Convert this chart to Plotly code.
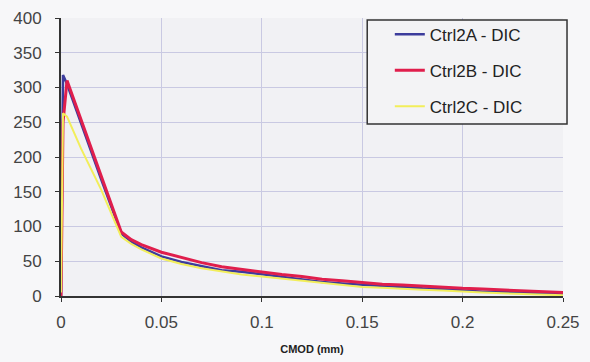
import plotly.graph_objects as go

# CMOD (mm) sample points shared by all three DIC runs
cmod = [0, 0.001, 0.003, 0.01, 0.02, 0.03, 0.035, 0.04, 0.05, 0.06, 0.07, 0.08,
        0.09, 0.1, 0.11, 0.12, 0.13, 0.14, 0.15, 0.16, 0.17, 0.18, 0.19, 0.2,
        0.21, 0.22, 0.23, 0.24, 0.25]

ctrl2a = [0, 318, 305, 248, 168, 90, 78, 70, 57, 49, 43, 37, 35, 31, 28, 24,
          20, 18, 16, 14, 13, 11, 10, 8, 6, 6, 5, 4, 2]
ctrl2b = [0, 250, 310, 253, 173, 92, 81, 74, 63, 55, 48, 42, 38, 35, 31, 28,
          24, 22, 19, 17, 16, 14, 12, 11, 10, 9, 8, 7, 5]
ctrl2c = [5, 263, 258, 212, 153, 85, 75, 67, 54, 46, 40, 35, 31, 28, 25, 21,
          18, 16, 13, 12, 10, 9, 8, 6, 5, 4, 3, 2, 1]

series = [
    ("Ctrl2A - DIC", ctrl2a, "#3c3c9c", 2.5),
    ("Ctrl2B - DIC", ctrl2b, "#e01e4c", 3),
    ("Ctrl2C - DIC", ctrl2c, "#f2ee5a", 2),
]

fig = go.Figure()
for name, vals, color, width in series:
    fig.add_trace(go.Scatter(x=cmod, y=vals, mode="lines", name=name,
                             legendgroup=name,
                             line=dict(color=color, width=width)))

font_family = "Liberation Sans, Arial, sans-serif"
axis_font = dict(family=font_family, size=17, color="#444444")

# framed legend panel
fig.add_shape(type="rect", xref="paper", yref="paper",
              x0=0.610, x1=1.008, y0=0.619, y1=0.993,
              line=dict(color="#333333", width=1.5), fillcolor="#f3f3f5", layer="above")

fig.update_layout(
    width=590, height=362,
    margin=dict(l=61, r=27, t=18, b=66, autoexpand=False),
    paper_bgcolor="#f7f7f9",
    plot_bgcolor="#f1f1f4",
    showlegend=True,
    legend=dict(
        x=0.655, y=1.005, xanchor="left", yanchor="top",
        bgcolor="rgba(0,0,0,0)", borderwidth=0,
        font=dict(family=font_family, size=17, color="#222222"),
        tracegroupgap=11, itemwidth=30,
    ),
    xaxis=dict(
        range=[0, 0.25], tickvals=[0, 0.05, 0.1, 0.15, 0.2, 0.25],
        ticktext=["0", "0.05", "0.1", "0.15", "0.2", "0.25"],
        showgrid=True, gridcolor="#c9c9e2", gridwidth=1,
        showline=True, linecolor="#333333", linewidth=2,
        ticks="outside", ticklen=4, tickcolor="#333333",
        tickfont=axis_font, zeroline=False, ticklabelstandoff=6,
        automargin=False,
        title=dict(text="<b>CMOD (mm)</b>", font=dict(family=font_family,
                                                      size=11, color="#222222"), standoff=14),
    ),
    yaxis=dict(
        range=[0, 400], dtick=50,
        showgrid=True, gridcolor="#c9c9e2", gridwidth=1,
        showline=True, linecolor="#333333", linewidth=2,
        ticks="outside", ticklen=4, tickcolor="#333333",
        tickfont=axis_font, zeroline=False, ticklabelstandoff=10,
        automargin=False,
    ),
)

fig.write_html("out.html")
